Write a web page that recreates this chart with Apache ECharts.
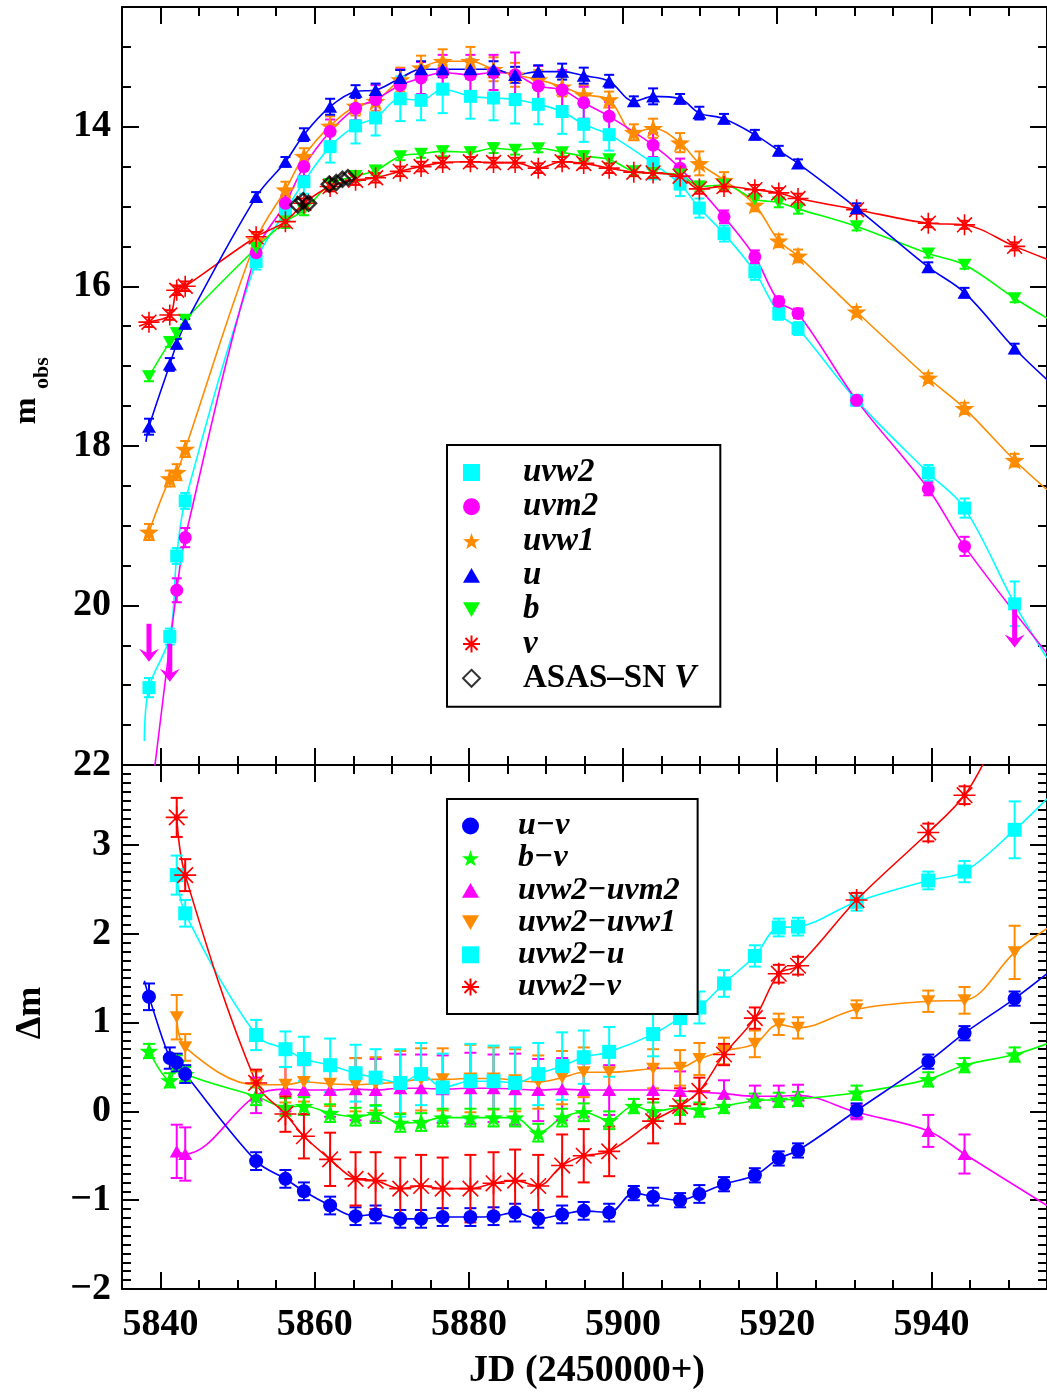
<!DOCTYPE html>
<html><head><meta charset="utf-8">
<script src="https://cdn.jsdelivr.net/npm/echarts@6/dist/echarts.min.js"></script>
<style>html,body{margin:0;padding:0;background:#fff}#c{width:1047px;height:1393px}</style>
</head><body><div id="c"></div>
<script>
// ---------------- DATA ----------------
// Swift epochs (JD - 2450000)
const jd = [5838.5, 5841.2, 5842.1, 5843.2, 5852.4, 5856.2, 5858.6, 5862.0, 5865.3, 5867.9, 5871.1, 5873.8, 5876.6, 5880.2, 5883.2, 5886.0, 5889.0, 5892.1, 5894.9, 5898.2, 5901.4, 5903.9, 5907.4, 5909.9, 5913.1, 5917.1, 5920.2, 5922.7, 5930.3, 5939.6, 5944.3, 5950.8];

// Top panel: observed magnitudes
const uvw2 = [21.03, 20.39, 19.38, 18.69, 15.69, 15.06, 14.69, 14.25, 13.99, 13.89, 13.65, 13.67, 13.53, 13.62, 13.64, 13.66, 13.72, 13.81, 13.97, 14.10, null, 14.46, 14.72, 15.02, 15.34, 15.82, 16.34, 16.53, 17.43, 18.34, 18.78, 19.98];
const uvw2Err = [0.12, 0.1, 0.1, 0.1, 0.1, 0.12, 0.15, 0.2, 0.22, 0.22, 0.28, 0.25, 0.3, 0.28, 0.28, 0.3, 0.25, 0.28, 0.22, 0.2, null, 0.2, 0.15, 0.12, 0.1, 0.1, 0.08, 0.08, 0.06, 0.1, 0.12, 0.28];
const uvm2 = [null, null, 19.81, 19.15, 15.58, 14.96, 14.50, 14.06, 13.77, 13.66, 13.48, 13.39, 13.32, 13.35, 13.32, 13.35, 13.49, 13.54, 13.70, 13.87, null, 14.23, 14.52, null, 15.13, 15.63, 16.19, 16.34, 17.43, 18.54, 19.26, null];
const uvm2Err = [null, null, 0.15, 0.12, 0.1, 0.1, 0.12, 0.15, 0.15, 0.18, 0.2, 0.2, 0.22, 0.25, 0.22, 0.28, 0.25, 0.25, 0.2, 0.18, null, 0.15, 0.12, null, 0.08, 0.08, 0.06, 0.06, 0.06, 0.08, 0.12, null];
const uvm2LimJd = [5838.5, 5841.2, 5950.8];
const uvm2LimMag = [20.23, 20.48, 20.05];
const uvw1 = [19.08, 18.41, 18.33, 18.04, 15.42, 14.79, 14.37, 13.99, 13.74, 13.68, 13.41, 13.26, 13.18, 13.18, 13.28, 13.35, 13.41, 13.50, 13.60, 13.66, 14.07, 14.02, 14.20, 14.46, 14.67, 14.98, 15.43, 15.62, 16.32, 17.15, 17.53, 18.18];
const uvw1Err = [0.1, 0.1, 0.1, 0.1, 0.08, 0.1, 0.1, 0.12, 0.12, 0.12, 0.15, 0.15, 0.15, 0.18, 0.15, 0.15, 0.12, 0.12, 0.12, 0.1, 0.1, 0.12, 0.12, 0.15, 0.1, 0.08, 0.08, 0.08, 0.06, 0.06, 0.07, 0.08];
const uMag = [17.76, 16.98, 16.72, 16.47, 14.88, 14.44, 14.10, 13.75, 13.56, 13.54, 13.39, 13.28, 13.28, 13.28, 13.28, 13.35, 13.31, 13.31, 13.36, 13.43, 13.68, 13.62, 13.65, 13.83, 13.90, 14.10, 14.30, 14.46, 15.02, 15.76, 16.08, 16.78];
const uErr = [0.1, 0.08, 0.06, 0.06, 0.06, 0.06, 0.08, 0.1, 0.08, 0.08, 0.1, 0.1, 0.1, 0.12, 0.1, 0.1, 0.08, 0.1, 0.1, 0.08, 0.06, 0.1, 0.06, 0.08, 0.06, 0.06, 0.06, 0.05, 0.06, 0.06, 0.06, 0.06];
const bMag = [17.13, 16.70, 16.59, 16.42, 15.52, 15.19, 15.05, 14.72, 14.62, 14.55, 14.37, 14.34, 14.31, 14.32, 14.27, 14.29, 14.27, 14.32, 14.37, 14.41, 14.56, 14.58, 14.60, 14.75, 14.73, 14.91, 14.95, 15.03, 15.25, 15.59, 15.73, 16.15];
const bErr = [0.06, 0.06, 0.06, 0.06, 0.08, 0.08, 0.06, 0.06, 0.06, 0.06, 0.05, 0.05, 0.06, 0.06, 0.06, 0.06, 0.05, 0.05, 0.06, 0.05, 0.05, 0.06, 0.06, 0.06, 0.06, 0.06, 0.06, 0.06, 0.05, 0.05, 0.05, 0.05];
const vMag = [16.45, 16.36, 16.05, 16.00, 15.38, 15.19, 14.96, 14.75, 14.67, 14.64, 14.56, 14.50, 14.45, 14.44, 14.45, 14.45, 14.52, 14.44, 14.46, 14.52, 14.57, 14.58, 14.62, 14.78, 14.75, 14.79, 14.83, 14.90, 15.04, 15.21, 15.23, 15.50];
const vErr = [0.06, 0.06, 0.06, 0.06, 0.06, 0.06, 0.06, 0.06, 0.06, 0.06, 0.06, 0.06, 0.06, 0.06, 0.06, 0.06, 0.06, 0.06, 0.06, 0.06, 0.05, 0.06, 0.06, 0.06, 0.06, 0.06, 0.06, 0.06, 0.05, 0.05, 0.05, 0.05];
const asasJd = [5857.8, 5858.5, 5859.2, 5861.9, 5862.8, 5863.6, 5864.3];
const asasMag = [14.98, 14.93, 14.96, 14.72, 14.70, 14.66, 14.64];

// curve ends (fit lines run past the data)
const uvw2Ends = [[5837.9, 21.7], [5955, 20.66]];
const uvm2Ends = [[5838.9, 22.3], [5955, 20.6]];
const uvw1Ends = [null, [5955, 18.55]];
const uEnds = [[5838.1, 17.95], [5955, 17.17]];
const bEnds = [null, [5955, 16.4]];
const vEnds = [[5837.2, 16.5], [5955, 15.66]];

// Bottom panel: colours
const uv = [1.29, 0.60, 0.55, 0.42, -0.56, -0.76, -0.90, -1.06, -1.18, -1.16, -1.21, -1.21, -1.19, -1.19, -1.18, -1.14, -1.21, -1.16, -1.12, -1.14, -0.92, -0.96, -1.00, -0.93, -0.82, -0.72, -0.53, -0.44, 0.01, 0.56, 0.88, 1.27];
const uvErr = [0.15, 0.12, 0.1, 0.1, 0.1, 0.1, 0.1, 0.1, 0.1, 0.1, 0.1, 0.1, 0.1, 0.1, 0.1, 0.1, 0.1, 0.1, 0.1, 0.1, 0.08, 0.1, 0.08, 0.1, 0.08, 0.08, 0.08, 0.08, 0.08, 0.08, 0.08, 0.08];
const bv = [0.68, 0.35, 0.55, 0.42, 0.17, 0.05, 0.06, -0.02, -0.06, -0.03, -0.13, -0.12, -0.07, -0.07, -0.07, -0.07, -0.24, -0.07, -0.01, -0.10, 0.06, 0.00, 0.04, 0.02, 0.06, 0.12, 0.13, 0.14, 0.21, 0.36, 0.52, 0.64];
const bvErr = [0.08, 0.08, 0.08, 0.08, 0.1, 0.1, 0.1, 0.1, 0.1, 0.1, 0.1, 0.1, 0.1, 0.1, 0.1, 0.1, 0.1, 0.1, 0.1, 0.1, 0.08, 0.1, 0.08, 0.08, 0.08, 0.08, 0.08, 0.08, 0.08, 0.08, 0.08, 0.08];
const w2m2 = [null, null, -0.45, -0.48, 0.18, 0.25, 0.24, 0.24, 0.25, 0.24, 0.26, 0.26, 0.25, 0.26, 0.26, 0.25, 0.24, 0.25, 0.24, 0.24, null, 0.24, 0.23, null, 0.20, 0.17, 0.17, 0.18, -0.01, -0.22, -0.48, null];
const w2m2Err = [null, null, 0.3, 0.3, 0.2, 0.25, 0.28, 0.3, 0.35, 0.35, 0.38, 0.38, 0.38, 0.4, 0.38, 0.4, 0.35, 0.35, 0.3, 0.28, null, 0.25, 0.22, null, 0.15, 0.12, 0.12, 0.12, 0.08, 0.18, 0.22, null];
const w2w1 = [null, null, 1.06, 0.72, 0.30, 0.30, 0.33, 0.31, 0.30, 0.31, 0.33, 0.36, 0.36, 0.37, 0.37, 0.35, 0.33, 0.38, 0.44, 0.44, null, 0.48, 0.49, 0.59, 0.68, 0.76, 0.98, 0.94, 1.15, 1.24, 1.25, 1.79];
const w2w1Err = [null, null, 0.25, 0.15, 0.15, 0.2, 0.22, 0.25, 0.3, 0.3, 0.35, 0.35, 0.35, 0.38, 0.35, 0.35, 0.3, 0.3, 0.28, 0.25, null, 0.22, 0.2, 0.18, 0.15, 0.15, 0.12, 0.12, 0.1, 0.12, 0.15, 0.3];
const w2u = [null, null, 2.66, 2.23, 0.86, 0.70, 0.59, 0.52, 0.43, 0.38, 0.32, 0.42, 0.27, 0.34, 0.34, 0.32, 0.42, 0.51, 0.61, 0.67, null, 0.87, 1.05, 1.17, 1.44, 1.75, 2.07, 2.08, 2.36, 2.60, 2.70, 3.17];
const w2uErr = [null, null, 0.22, 0.15, 0.17, 0.2, 0.25, 0.3, 0.32, 0.32, 0.38, 0.35, 0.38, 0.42, 0.4, 0.4, 0.35, 0.38, 0.3, 0.28, null, 0.25, 0.2, 0.18, 0.15, 0.12, 0.1, 0.1, 0.1, 0.1, 0.12, 0.32];
const w2v = [null, null, 3.31, 2.66, 0.32, -0.03, -0.28, -0.54, -0.76, -0.78, -0.87, -0.84, -0.87, -0.87, -0.81, -0.78, -0.84, -0.61, -0.50, -0.45, null, -0.11, 0.06, 0.23, 0.64, 1.05, 1.55, 1.64, 2.38, 3.14, 3.56, null];
const w2vErr = [null, null, 0.22, 0.18, 0.15, 0.2, 0.25, 0.3, 0.3, 0.32, 0.35, 0.35, 0.35, 0.38, 0.35, 0.35, 0.35, 0.35, 0.3, 0.28, null, 0.25, 0.2, 0.15, 0.12, 0.12, 0.1, 0.1, 0.08, 0.1, 0.1, null];

const uvEnds = [[5837.9, 1.47], [5955, 1.55]];
const bvEnds = [null, [5955, 0.76]];
const w2m2Ends = [null, [5955, -1.06]];
const w2w1Ends = [null, [5955, 2.06]];
const w2uEnds = [null, [5955, 3.52]];
const w2vEnds = [null, [5947.5, 4.05]];

// axis ticks
const xTicks = [5840, 5860, 5880, 5900, 5920, 5940];
const topTicks = [14, 16, 18, 20, 22];
const botTicks = [-2, -1, 0, 1, 2, 3];

// ---------------- BUILD ----------------
const F = 'Liberation Serif';
const COL = {cyan: '#00ffff', mag: '#ff00ff', org: '#ff8c00', blue: '#0000ff', green: '#00ff00', red: '#ff0000'};
const STAR = 'path://M0,-10L2.35,-3.24L9.51,-3.09L3.8,1.24L5.88,8.09L0,4L-5.88,8.09L-3.8,1.24L-9.51,-3.09L-2.35,-3.24Z';
const ASTER = 'path://M0,-10V10M-10,0H10M-7.07,-7.07L7.07,7.07M-7.07,7.07L7.07,-7.07M-1.8,-1.8H1.8V1.8H-1.8Z';
const TRI_UP = 'path://M0,-8.66L10,8.66L-10,8.66Z';
const TRI_DN = 'path://M-10,-8.66L10,-8.66L0,8.66Z';

function pts(xs, ys) { return xs.map((x, i) => [x, ys[i]]).filter(p => p[1] != null); }
function errPts(xs, ys, es) { return xs.map((x, i) => [x, ys[i], es[i]]).filter(p => p[1] != null && p[2] != null); }
function curve(xs, ys, ends) { const p = pts(xs, ys); if (ends[0]) p.unshift(ends[0]); if (ends[1]) p.push(ends[1]); return p; }

const XR = [5835, 5955];
const labelStyle = {fontFamily: F, fontWeight: 'bold', fontSize: 38, color: '#000'};

function axesFor(kind, gi, major, range, minorInt, showLabels, inverse) {
  const sides = kind === 'x' ? ['bottom', 'top'] : ['left', 'right'];
  return sides.map((pos, k) => {
    const a = {
      type: 'value', gridIndex: gi, position: pos, min: range[0], max: range[1],
      inverse: !!inverse, splitLine: {show: false}
    };
    if (major) {
      a.axisLine = {show: true, onZero: false, lineStyle: {color: '#000', width: 2}};
      a.axisTick = {show: true, inside: true, length: 17, customValues: major, lineStyle: {color: '#000', width: 2}};
      a.axisLabel = Object.assign({show: showLabels && k === 0, customValues: major,
        margin: kind === 'x' ? 17 : 11,
        formatter: v => String(v).replace('-', '\u2212')}, labelStyle);
    } else {
      a.interval = minorInt;
      a.axisLine = {show: false, onZero: false};
      a.axisTick = {show: true, inside: true, length: 9, lineStyle: {color: '#000', width: 2}};
      a.axisLabel = {show: false};
    }
    return a;
  });
}

const G0 = {left: 122, top: 7, width: 930, height: 758};
const G1 = {left: 122, top: 765, width: 930, height: 524};
const grids = [G0, Object.assign({}, G0), G1, Object.assign({}, G1)];

const xAxis = [].concat(
  axesFor('x', 0, xTicks, XR, null, false),
  axesFor('x', 1, null, XR, 5, false),
  axesFor('x', 2, xTicks, XR, null, true),
  axesFor('x', 3, null, XR, 5, false)
);
const yAxis = [].concat(
  axesFor('y', 0, topTicks, [12.5, 22], null, true, true),
  axesFor('y', 1, null, [12.5, 22], 0.5, false, true),
  axesFor('y', 2, botTicks, [-2, 3.9], null, true),
  axesFor('y', 3, null, [-2, 3.9], 0.1, false)
);

function errRender(color, cap) {
  return function (params, api) {
    const x = api.value(0), y = api.value(1), e = api.value(2);
    const a = api.coord([x, y - e]), b = api.coord([x, y + e]);
    const st = {stroke: color, lineWidth: 2};
    return {type: 'group', children: [
      {type: 'line', shape: {x1: a[0], y1: a[1], x2: b[0], y2: b[1]}, style: st},
      {type: 'line', shape: {x1: a[0] - cap, y1: a[1], x2: a[0] + cap, y2: a[1]}, style: st},
      {type: 'line', shape: {x1: b[0] - cap, y1: b[1], x2: b[0] + cap, y2: b[1]}, style: st}
    ]};
  };
}
function ulRender(params, api) {
  const p = api.coord([api.value(0), api.value(1)]);
  const L = 38, h = 13, w = 10;
  return {type: 'group', children: [
    {type: 'line', shape: {x1: p[0], y1: p[1], x2: p[0], y2: p[1] + L - 4}, style: {stroke: COL.mag, lineWidth: 5}},
    {type: 'polygon', shape: {points: [[p[0] - w, p[1] + L - h], [p[0], p[1] + L - h + 5], [p[0] + w, p[1] + L - h], [p[0], p[1] + L]]}, style: {fill: COL.mag}}
  ]};
}

const series = [];
function addSet(gi, name, xs, ys, es, ends, color, sym, size, cap, extraStyle) {
  const xi = gi === 0 ? 0 : 4, yi = gi === 0 ? 0 : 4;
  series.push({type: 'line', xAxisIndex: xi, yAxisIndex: yi, data: curve(xs, ys, ends), smooth: 0.35,
    symbol: 'none', showSymbol: false, silent: true, clip: true, z: 1,
    lineStyle: {color: color, width: 1.6}});
  series.push({type: 'custom', xAxisIndex: xi, yAxisIndex: yi, data: errPts(xs, ys, es), clip: true, silent: true, z: 2,
    encode: {x: 0, y: 1}, renderItem: errRender(color, cap)});
  series.push({type: 'scatter', name: name, xAxisIndex: xi, yAxisIndex: yi, data: pts(xs, ys),
    symbol: sym, symbolSize: size, symbolKeepAspect: true, z: 3, clip: true,
    itemStyle: Object.assign({color: color, opacity: 1}, extraStyle || {})});
}
const asterStyle = {borderColor: COL.red, borderWidth: 1.6};

// top panel
addSet(0, 'uvw1', jd, uvw1, uvw1Err, uvw1Ends, COL.org, STAR, 20, 5);
addSet(0, 'uvw2', jd, uvw2, uvw2Err, uvw2Ends, COL.cyan, 'rect', 13, 5);
addSet(0, 'uvm2', jd, uvm2, uvm2Err, uvm2Ends, COL.mag, 'circle', 13, 5);
addSet(0, 'b', jd, bMag, bErr, bEnds, COL.green, TRI_DN, 14, 5);
addSet(0, 'v', jd, vMag, vErr, vEnds, COL.red, ASTER, 21, 5, asterStyle);
addSet(0, 'u', jd, uMag, uErr, uEnds, COL.blue, TRI_UP, 14, 5);
series.push({type: 'custom', xAxisIndex: 0, yAxisIndex: 0, data: pts(uvm2LimJd, uvm2LimMag), encode: {x: 0, y: 1},
  renderItem: ulRender, silent: true, z: 4});
series.push({type: 'scatter', name: 'ASAS-SN V', xAxisIndex: 0, yAxisIndex: 0, data: pts(asasJd, asasMag),
  symbol: 'diamond', symbolSize: 15, z: 5,
  itemStyle: {color: 'rgba(255,255,255,0)', borderColor: '#000', borderWidth: 2.5}});

// bottom panel
addSet(1, 'uvw2\u2212uvm2', jd, w2m2, w2m2Err, w2m2Ends, COL.mag, TRI_UP, 14, 6);
addSet(1, 'uvw2\u2212uvw1', jd, w2w1, w2w1Err, w2w1Ends, COL.org, TRI_DN, 14, 6);
addSet(1, 'uvw2\u2212u', jd, w2u, w2uErr, w2uEnds, COL.cyan, 'rect', 14, 6);
addSet(1, 'b\u2212v', jd, bv, bvErr, bvEnds, COL.green, STAR, 19, 6);
addSet(1, 'u\u2212v', jd, uv, uvErr, uvEnds, COL.blue, 'circle', 14, 6);
addSet(1, 'uvw2\u2212v', jd, w2v, w2vErr, w2vEnds, COL.red, ASTER, 22, 6, asterStyle);

function legendFmt(name) {
  if (name === 'ASAS-SN V') return '{g|}{n|ASAS\u2013SN }{t|V}';
  return '{g|}{t|' + name + '}';
}
function legendCfg(left, top, names, fs, lh, gap, pad, spacer) {
  const tok = {fontFamily: F, fontWeight: 'bold', fontSize: fs, lineHeight: lh, color: '#000'};
  return {
    left: left, top: top, orient: 'vertical', selectedMode: false, data: names,
    backgroundColor: '#fff', borderColor: '#000', borderWidth: 2, borderRadius: 0,
    padding: pad, itemWidth: 17, itemHeight: 17, itemGap: gap,
    formatter: legendFmt,
    textStyle: {fontFamily: F, fontSize: fs, lineHeight: lh, color: '#000',
      rich: {
        g: {width: spacer, lineHeight: lh},
        t: Object.assign({fontStyle: 'italic'}, tok),
        n: Object.assign({fontStyle: 'normal'}, tok)
      }}
  };
}

const option = {
  animation: false,
  backgroundColor: '#fff',
  grid: grids,
  xAxis: xAxis,
  yAxis: yAxis,
  legend: [
    legendCfg(447, 445, ['uvw2', 'uvm2', 'uvw1', 'u', 'b', 'v', 'ASAS-SN V'], 33, 31, 1.3, [11, 24, 12, 15], 38),
    legendCfg(447, 799, ['u\u2212v', 'b\u2212v', 'uvw2\u2212uvm2', 'uvw2\u2212uvw1', 'uvw2\u2212u', 'uvw2\u2212v'], 32, 29, 0.2, [11, 18, 11, 14], 34)
  ],
  graphic: [
    {type: 'text', x: 27, y: 411, rotation: Math.PI / 2, style: {text: 'm', fontFamily: F, fontWeight: 'bold', fontSize: 32, fill: '#000', align: 'center', verticalAlign: 'middle'}},
    {type: 'text', x: 42, y: 373, rotation: Math.PI / 2, style: {text: 'obs', fontFamily: F, fontWeight: 'bold', fontSize: 22, fill: '#000', align: 'center', verticalAlign: 'middle'}},
    {type: 'text', x: 31, y: 1013, rotation: Math.PI / 2, style: {text: '\u0394m', fontFamily: F, fontWeight: 'bold', fontSize: 36, fill: '#000', align: 'center', verticalAlign: 'middle'}},
    {type: 'text', x: 587, y: 1371, style: {text: 'JD (2450000+)', fontFamily: F, fontWeight: 'bold', fontSize: 38, fill: '#000', align: 'center', verticalAlign: 'middle'}}
  ],
  series: series
};
const chart = echarts.init(document.getElementById('c'), null, {renderer: 'canvas'});
chart.setOption(option);
</script>
</body></html>
